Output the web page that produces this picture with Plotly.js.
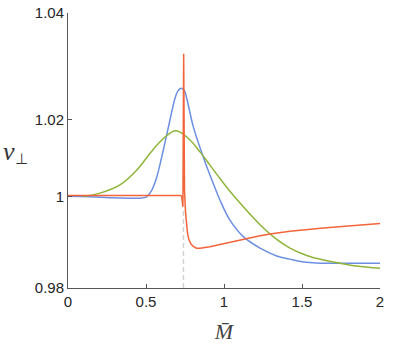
<!DOCTYPE html>
<html>
<head>
<meta charset="utf-8">
<script src="https://cdn.plot.ly/plotly-3.0.1.min.js"></script>
<style>html,body{margin:0;padding:0;background:#fff;}</style>
</head>
<body>
<div id="chart" style="width:399px;height:349px;"></div>
<script>
// ---- data ----
const blueX = [0, 0.141, 0.269, 0.397, 0.462, 0.504, 0.538, 0.569, 0.611, 0.654, 0.686, 0.705, 0.724, 0.744, 0.761, 0.803, 0.867, 0.931, 0.974, 1.038, 1.124, 1.231, 1.338, 1.423, 1.530, 1.637, 1.851, 2.0];
const blueY = [1.0000, 0.9999, 0.9997, 0.9996, 0.9996, 0.9999, 1.0014, 1.0042, 1.0101, 1.0167, 1.0214, 1.0230, 1.0236, 1.0232, 1.0214, 1.0152, 1.0086, 1.0028, 0.9992, 0.9948, 0.9912, 0.9887, 0.9870, 0.9863, 0.9856, 0.9854, 0.9854, 0.9854];

const greenX = [0.098, 0.205, 0.333, 0.440, 0.526, 0.590, 0.654, 0.686, 0.718, 0.782, 0.846, 0.910, 0.974, 1.038, 1.124, 1.231, 1.338, 1.423, 1.530, 1.637, 1.744, 1.851, 2.0];
const greenY = [1.0000, 1.0007, 1.0025, 1.0057, 1.0094, 1.0119, 1.0138, 1.0143, 1.0140, 1.0123, 1.0097, 1.0068, 1.0039, 1.0011, 0.9977, 0.9938, 0.9906, 0.9887, 0.9871, 0.9861, 0.9854, 0.9848, 0.9843];

const redX = [0, 0.526, 0.722, 0.729, 0.733, 0.7365, 0.7415, 0.7468, 0.7532, 0.7596, 0.766, 0.7756, 0.7885, 0.803, 0.8237, 0.846, 0.878, 0.910, 0.974, 1.038, 1.135, 1.231, 1.295, 1.423, 1.637, 1.851, 2.0];
const redY = [1.0002, 1.0002, 1.0002, 1.0000, 0.9985, 0.9977, 1.0311, 1.0014, 0.9966, 0.9937, 0.9920, 0.9905, 0.9896, 0.9891, 0.9887, 0.9887, 0.9888, 0.9890, 0.9895, 0.9900, 0.9907, 0.9914, 0.9918, 0.9924, 0.9931, 0.9937, 0.9941];

const markerX = [0.74, 0.74];
const markerY = [0.98, 0.997];

const xTickVals = [0, 0.5, 1, 1.5, 2];
const xTickText = ['0', '0.5', '1', '1.5', '2'];
const yTickVals = [0.98, 1.0, 1.01666, 1.04];
const yTickText = ['0.98', '1', '1.02', '1.04'];

const traces = [
  {x: markerX, y: markerY, mode: 'lines', line: {color: '#d2d2d2', width: 1.5, dash: '5px,3px'}, hoverinfo: 'skip'},
  {x: blueX, y: blueY, mode: 'lines', line: {color: '#6d8fe2', width: 1.5, shape: 'spline', smoothing: 1}},
  {x: greenX, y: greenY, mode: 'lines', line: {color: '#8fb43a', width: 1.5, shape: 'spline', smoothing: 1}},
  {x: redX, y: redY, mode: 'lines', line: {color: '#f2643a', width: 1.5}}
];

const axisCommon = {
  showgrid: false, zeroline: false, showline: true, linecolor: '#555', linewidth: 1,
  ticks: 'inside', ticklen: 4, tickwidth: 1, tickcolor: '#555', mirror: false,
  tickfont: {family: 'Liberation Sans, Arial, sans-serif', size: 15, color: '#262626'}
};

const layout = {
  width: 399, height: 349,
  margin: {l: 68, r: 19, t: 13, b: 61},
  paper_bgcolor: '#fff', plot_bgcolor: '#fff',
  showlegend: false,
  xaxis: Object.assign({}, axisCommon, {
    range: [0, 2], tickmode: 'array', tickvals: xTickVals, ticktext: xTickText,
    title: {text: 'M\u0304', font: {family: 'Liberation Serif, serif', size: 22, color: '#444', style: 'italic'}, standoff: 14}
  }),
  yaxis: Object.assign({}, axisCommon, {
    range: [0.98, 1.04], tickmode: 'array', tickvals: yTickVals, ticktext: yTickText
  }),
  annotations: [
    {xref: 'paper', yref: 'paper', x: -0.189, y: 0.497, xanchor: 'center', yanchor: 'middle',
     text: 'v', showarrow: false,
     font: {family: 'Liberation Serif, serif', size: 26, color: '#333', style: 'italic'}},
    {xref: 'paper', yref: 'paper', x: -0.148, y: 0.468, xanchor: 'center', yanchor: 'middle',
     text: '\u22A5', showarrow: false,
     font: {family: 'DejaVu Sans, sans-serif', size: 15, color: '#333'}}
  ]
};

Plotly.newPlot('chart', traces, layout, {displayModeBar: false, staticPlot: true});
</script>
</body>
</html>
